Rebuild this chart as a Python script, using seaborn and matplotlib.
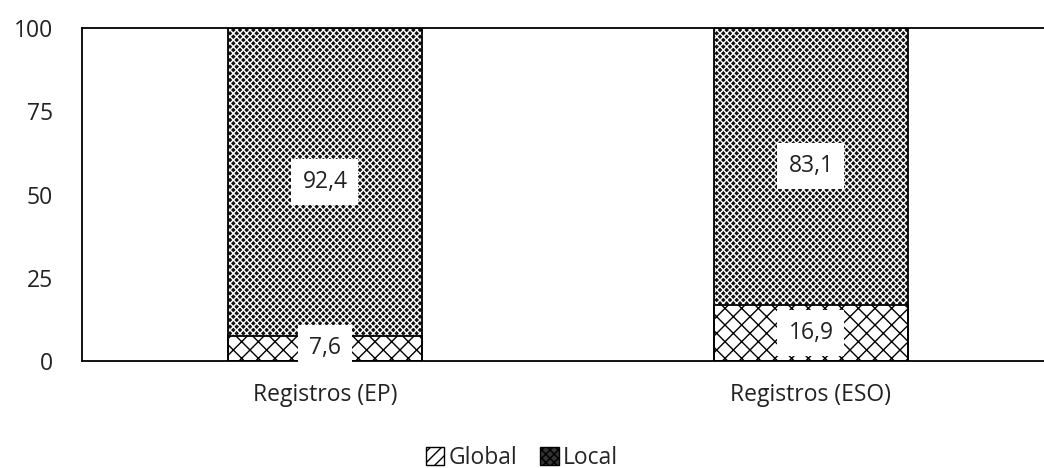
import matplotlib
matplotlib.use("Agg")
import matplotlib.pyplot as plt
import seaborn as sns
import pandas as pd
from matplotlib.patches import Patch

categories = ["Registros (EP)", "Registros (ESO)"]
global_vals = [7.6, 16.9]
local_vals = [92.4, 83.1]
yticks = [0, 25, 50, 75, 100]

sns.set_theme(style="white")
plt.rcParams['font.family'] = ['Open Sans', 'DejaVu Sans']
plt.rcParams['hatch.linewidth'] = 1.0

df = pd.DataFrame({"cat": categories, "g": global_vals, "l": local_vals})
df["total"] = df["g"] + df["l"]

fig = plt.figure(figsize=(10.44, 4.68), dpi=100)
ax = fig.add_axes([82/1044, 1 - 361/468, (1054-82)/1044, (361-28)/468])

sns.barplot(data=df, x="cat", y="total", ax=ax, color="#111111", width=0.4,
            edgecolor="white", hatch="xxxxx", linewidth=0, errorbar=None)
sns.barplot(data=df, x="cat", y="g", ax=ax, color="white", width=0.4,
            edgecolor="black", hatch="xx", linewidth=0, errorbar=None)
for p in list(ax.patches):
    r = plt.Rectangle((p.get_x(), p.get_y()), p.get_width(), p.get_height(), fill=False,
                      edgecolor="black", linewidth=1.3, zorder=3)
    ax.add_patch(r)

fs = 16.5
for i, (g, l) in enumerate(zip(global_vals, local_vals)):
    ax.text(i, g / 2, f"{g:.1f}".replace(".", ","), ha="center", va="center",
            fontsize=fs, color="#222222", zorder=5,
            bbox=dict(facecolor="white", edgecolor="none", pad=8))
    ax.text(i, g + l / 2, f"{l:.1f}".replace(".", ","), ha="center", va="center",
            fontsize=fs, color="#222222", zorder=5,
            bbox=dict(facecolor="white", edgecolor="none", pad=8))

ax.set_xlim(-0.5, 1.5)
ax.set_ylim(0, 100)
ax.set_yticks(yticks)
ax.set_yticklabels([str(t) for t in yticks], fontsize=fs, color="#222222")
ax.tick_params(axis="x", labelsize=16.5, colors="#222222", pad=16, length=0)
ax.tick_params(axis="y", pad=21, length=0)
ax.set_xlabel("")
ax.set_ylabel("")
for s in ["left", "top", "bottom"]:
    ax.spines[s].set_visible(True)
    ax.spines[s].set_color("black")
    ax.spines[s].set_linewidth(1.3)
ax.spines["right"].set_visible(False)

handles = [Patch(facecolor="white", edgecolor="black", hatch="///", label="Global"),
           Patch(facecolor="#333333", edgecolor="black", hatch="xxxx", label="Local")]
fig.legend(handles=handles, loc="center", bbox_to_anchor=(0.5, 1 - 458/468),
           ncol=2, frameon=False, fontsize=fs, handlelength=0.8, handleheight=0.8,
           handletextpad=0.2, columnspacing=1.0)

fig.savefig("out.png", dpi=100)
